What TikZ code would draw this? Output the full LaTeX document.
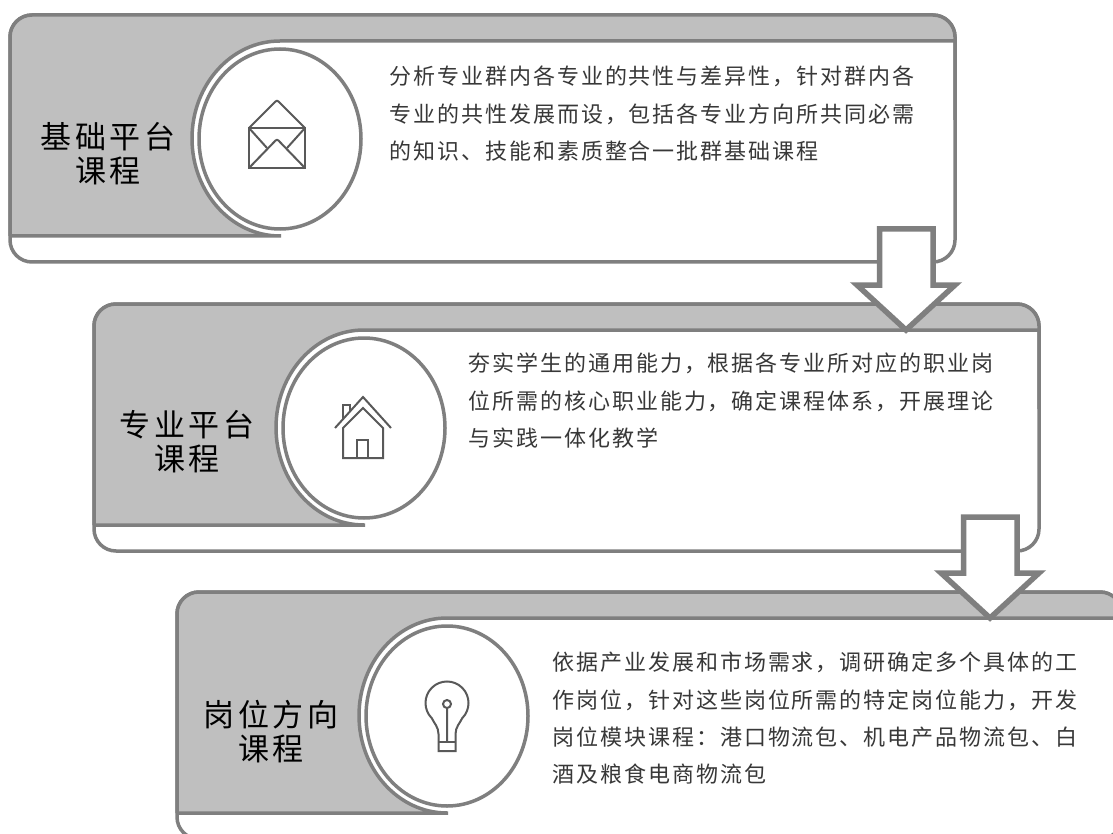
\documentclass[tikz,border=0pt]{standalone}
\usepackage{fontspec}
\newfontfamily\titlefont[LetterSpace=11]{Noto Sans CJK SC}
\newfontfamily\bodyfont[LetterSpace=9]{Noto Sans CJK SC}
\definecolor{framegray}{HTML}{7F7F7F}
\definecolor{bandgray}{HTML}{BFBFBF}
\definecolor{icongray}{HTML}{595959}
\tikzset{
    frameline/.style = {draw = framegray, line width = 3.5pt},
    iconline/.style = {draw = icongray, line width = 2pt},
    titletext/.style = {align = center, text = black, inner sep = 0pt, font = \titlefont\fontsize{31}{34}\selectfont},
    bodytext/.style = {anchor = north west, align = left, text = black!78, inner sep = 0pt, font = \bodyfont\fontsize{22}{37.3}\selectfont}
}
% one panel, drawn at the place of the first one
\newcommand{\panelframe}{
    \draw [frameline, fill = white, rounded corners = 22pt] (10, 15) rectangle (955, 262);
    \path [fill = bandgray, rounded corners = 22pt]
        (10, 236) -- (10, 15) -- (955, 15) -- (955, 60)
        [sharp corners] -- (955, 41) -- (280, 41)
        arc [start angle = 90, end angle = 270, x radius = 88pt, y radius = 97.5pt]
        -- cycle;
    \draw [frameline, rounded corners = 22pt] (10, 120) -- (10, 15) -- (955, 15) -- (955, 120);
    \draw [frameline] (10, 120) -- (10, 236) (955, 41) -- (280, 41)
        arc [start angle = 90, end angle = 270, x radius = 88pt, y radius = 97.5pt]
        (10, 236) -- (281, 236);
    \draw [frameline, fill = white] (280, 139) ellipse [x radius = 81pt, y radius = 90pt];
}
\newcommand{\downarrowshape}{
    \draw [draw = framegray, line width = 5.5pt, fill = white]
        (879.5, 229) -- (933, 229) -- (933, 285) -- (955, 285)
        -- (906, 330) -- (857, 285) -- (879.5, 285) -- cycle;
}
\begin{document}
\begin{tikzpicture}[x = 1pt, y = -1pt]
    \clip (0, 0) rectangle (1113, 834);
    \fill [white] (0, 0) rectangle (1113, 834);

    \begin{scope}
        \panelframe
        \draw [iconline] (249, 128) rectangle (305, 168);
        \draw [iconline, rounded corners = 2pt] (249, 128) -- (277, 100) -- (305, 128);
        \draw [iconline, rounded corners = 2pt] (249, 168) -- (277, 139) -- (305, 168);
        \draw [iconline] (249, 128) -- (267, 148) (305, 128) -- (287, 148);
        \node [titletext] (title1) at (108, 154) {基础平台\\课程};
        \node [bodytext] (body1) at (389, 66) {分析专业群内各专业的共性与差异性，针对群内各\\专业的共性发展而设，包括各专业方向所共同必需\\的知识、技能和素质整合一批群基础课程};
    \end{scope}

    \begin{scope}[xshift = 84pt, yshift = -289pt]
        \panelframe
        \draw [iconline] (251, 139) -- (279, 108) -- (307, 139);
        \draw [iconline] (259, 169) -- (259, 139) -- (279, 119) -- (299, 139) -- (299, 169) -- cycle;
        \draw [iconline] (273, 169) -- (273, 151) -- (284, 151) -- (284, 169);
        \draw [iconline] (259, 130) -- (259, 116) -- (266, 116) -- (266, 122);
        \node [titletext] (title2) at (103, 153) {专业平台\\课程};
        \node [bodytext] (body2) at (384, 64) {夯实学生的通用能力，根据各专业所对应的职业岗\\位所需的核心职业能力，确定课程体系，开展理论\\与实践一体化教学};
    \end{scope}

    \begin{scope}
        \downarrowshape
    \end{scope}

    \begin{scope}[xshift = 167pt, yshift = -577pt]
        \panelframe
        \draw [iconline] (271.5, 174) -- (271.5, 157)
            .. controls (271.5, 150) and (267, 146) .. (264.8, 141.2)
            arc [start angle = 225, end angle = -45, radius = 21.5pt]
            .. controls (293, 146) and (288.5, 150) .. (288.5, 157) -- (288.5, 174) -- cycle;
        \draw [iconline] (271.5, 165) -- (288.5, 165);
        \draw [iconline] (280, 131) -- (280, 165) (280, 127) circle [radius = 4pt];
        \node [titletext] (title3) at (104, 155) {岗位方向\\课程};
        \node [bodytext] (body3) at (385, 75) {依据产业发展和市场需求，调研确定多个具体的工\\作岗位，针对这些岗位所需的特定岗位能力，开发\\岗位模块课程：港口物流包、机电产品物流包、白\\酒及粮食电商物流包};
    \end{scope}

    \begin{scope}[xshift = 84pt, yshift = -288pt]
        \downarrowshape
    \end{scope}
\end{tikzpicture}
\end{document}
